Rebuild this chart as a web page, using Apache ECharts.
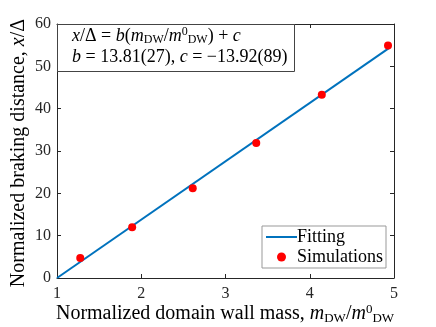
<!DOCTYPE html>
<html><head><meta charset="utf-8">
<script src="https://cdn.jsdelivr.net/npm/echarts@6/dist/echarts.min.js"></script>
<style>html,body{margin:0;padding:0;background:#fff}#c{width:436px;height:327px}</style>
</head><body><div id="c"></div>
<script>
const simX = [1.276, 1.892, 2.611, 3.365, 4.143, 4.929];
const simY = [4.74, 12.0, 21.2, 31.9, 43.3, 54.9];
const fitX = [1.0, 4.94];
const fitY = [0.0, 54.3];
const xTicks = [1, 2, 3, 4, 5];
const yTicks = [0, 10, 20, 30, 40, 50, 60];

const F = "'Liberation Serif', 'Times New Roman', serif";
const C = '#262626';
function mkRich(fs) {
  const sub = Math.round(fs * 0.64);
  return {
    i: {fontFamily: F, fontStyle: 'italic', fontSize: fs, color: C},
    n: {fontFamily: F, fontSize: fs, color: C},
    s: {fontFamily: F, fontSize: sub, color: C, verticalAlign: 'bottom', padding: [Math.round(fs*0.45),0,0,0]},
    p: {fontFamily: F, fontSize: sub, color: C, verticalAlign: 'top', padding: [0,0,Math.round(fs*0.45),0]}
  };
}
const chart = echarts.init(document.getElementById('c'));
const axisCommon = {
  axisLine: {show: true, onZero: false, lineStyle: {color: C, width: 1}},
  axisTick: {show: true, inside: true, length: 4, lineStyle: {color: C}},
  splitLine: {show: false}
};
chart.setOption({
  animation: false,
  grid: {left: 57, right: 42, top: 24, bottom: 49},
  xAxis: [
    Object.assign({type: 'value', min: xTicks[0], max: xTicks[xTicks.length-1], interval: 1,
      axisLabel: {fontFamily: F, fontSize: 16, color: C, margin: 8}}, axisCommon),
    Object.assign({type: 'value', min: xTicks[0], max: xTicks[xTicks.length-1], interval: 1, position: 'top',
      axisLabel: {show: false}}, axisCommon)
  ],
  yAxis: [
    Object.assign({type: 'value', min: yTicks[0], max: yTicks[yTicks.length-1], interval: 10,
      axisLabel: {fontFamily: F, fontSize: 16, color: C, margin: 6}}, axisCommon),
    Object.assign({type: 'value', min: yTicks[0], max: yTicks[yTicks.length-1], interval: 10, position: 'right',
      axisLabel: {show: false}}, axisCommon)
  ],
  legend: {
    orient: 'vertical', left: 262, top: 226,
    backgroundColor: '#fff', borderColor: '#999', borderWidth: 1, borderRadius: 0,
    padding: [2, 3, 2, 3], itemGap: 2, itemWidth: 31, itemHeight: 9,
    textStyle: {fontFamily: F, fontSize: 18, color: '#000', padding: [0,0,0,-5]},
    data: [{name: 'Fitting', itemStyle: {opacity: 0}}, 'Simulations']
  },
  series: [
    {name: 'Fitting', type: 'line', data: fitX.map((x, i) => [x, fitY[i]]),
      symbol: 'none', lineStyle: {color: '#0072BD', width: 2}, itemStyle: {color: '#0072BD'}, z: 2},
    {name: 'Simulations', type: 'scatter', data: simX.map((x, i) => [x, simY[i]]),
      symbolSize: 8, itemStyle: {color: '#ff0000', opacity: 1}, z: 3}
  ],
  graphic: [
    {type: 'rect', left: 57, top: 24, shape: {width: 237, height: 47},
      style: {fill: '#fff', stroke: '#444', lineWidth: 1}, z: 10},
    {type: 'text', x: 72, y: 36, z: 11, style: {rich: mkRich(18), verticalAlign: 'middle',
      text: '{i|x}{n|/Δ = }{i|b}{n|(}{i|m}{s|DW}{n|/}{i|m}{p|0}{s|DW}{n|) + }{i|c}'}},
    {type: 'text', x: 72, y: 57, z: 11, style: {rich: mkRich(18), verticalAlign: 'middle',
      text: '{i|b}{n| = 13.81(27), }{i|c}{n| = −13.92(89)}'}},
    {type: 'text', x: 225, y: 314, z: 11, style: {rich: mkRich(20), align: 'center', verticalAlign: 'middle',
      text: '{n|Normalized domain wall mass, }{i|m}{s|DW}{n|/}{i|m}{p|0}{s|DW}'}},
    {type: 'text', x: 19, y: 153, rotation: Math.PI / 2, z: 11, style: {rich: mkRich(20), align: 'center', verticalAlign: 'middle',
      text: '{n|Normalized braking distance, }{i|x}{n|/Δ}'}}
  ]
});
</script></body></html>
